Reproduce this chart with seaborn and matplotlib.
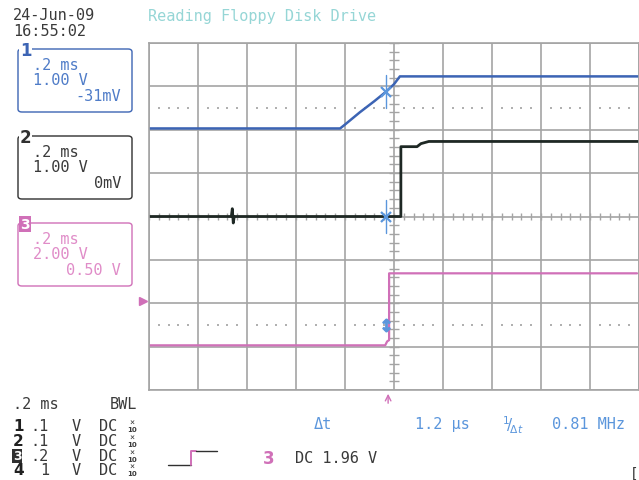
import numpy as np
import pandas as pd
import matplotlib
matplotlib.use("Agg")
import matplotlib.pyplot as plt
import seaborn as sns
from matplotlib.patches import FancyBboxPatch
from matplotlib.lines import Line2D
import matplotlib.transforms as mtransforms

# ---------------- data (time in divisions, 0.2 ms/div; level in divisions) -------------
ch1_t = [0.0, 3.90, 4.00, 4.30, 4.60, 4.84, 5.00, 5.12, 10.0]
ch1_v = [2.03, 2.03, 2.12, 2.40, 2.66, 2.88, 3.05, 3.23, 3.23]

ch2_t = [0.0, 1.68, 1.70, 1.72, 1.74, 5.14, 5.14, 5.47, 5.55, 5.71, 10.0]
ch2_v = [0.0, 0.0, 0.18, -0.15, 0.0, 0.0, 1.61, 1.61, 1.68, 1.73, 1.73]

ch3_t = [0.0, 4.82, 4.86, 4.90, 4.90, 9.96]
ch3_v = [-2.97, -2.97, -2.88, -2.85, -1.31, -1.31]

cursor_t = 4.84
cursor_levels = [2.88, 0.0]
trigger_level = -1.94
trigger_pos = 4.88

title = "Reading Floppy Disk Drive"
date_txt = "24-Jun-09"
time_txt = "16:55:02"
ch_labels = ["1", "2", "3"]
ch_timebase = [".2 ms", ".2 ms", ".2 ms"]
ch_scale = ["1.00 V", "1.00 V", "2.00 V"]
ch_offset = ["-31mV", "0mV", "0.50 V"]
row_nums = ["1", "2", "3", "4"]
row_scale = [".1", ".1", ".2", "1"]

# ---------------- styling ----------------
BLUE = "#3c64b4"
BLUE_TXT = "#4f7cc8"
CUR = "#5b96dc"
BLACK = "#1e2824"
PINK = "#d070b8"
PINK_TXT = "#e08cc8"
GRID = "#a4a4a4"
TITLE = "#96d6d6"
TXT = "#3a3a3a"
MONO = "DejaVu Sans Mono"

sns.set_style("white")
W, H = 639, 481
fig = plt.figure(figsize=(W / 100, H / 100), dpi=100)
fig.patch.set_facecolor("white")

def fx(px):
    return px / W

def fy(py):
    return 1 - py / H

ax = fig.add_axes([fx(149), fy(391), fx(639) - fx(149), fy(44) - fy(391)])
ax.set_xlim(0, 10)
ax.set_ylim(-4, 4)
ax.set_xticks(range(0, 11))
ax.set_yticks(range(-4, 5))
ax.tick_params(length=0, labelbottom=False, labelleft=False)
ax.grid(True, color=GRID, lw=1.2)
for s in ax.spines.values():
    s.set_color(GRID)
    s.set_linewidth(1.2)

# center-line graticule ticks
minor = np.arange(0, 10.01, 0.2)
ax.vlines(minor, -0.07, 0.07, color=GRID, lw=1.0)
minor_y = np.arange(-4, 4.01, 0.2)
ax.hlines(minor_y, 5 - 0.1, 5 + 0.1, color=GRID, lw=1.0)
# dotted rows
dots = [x for x in np.arange(0, 10.0, 0.2) if abs(x - round(x)) > 0.05]
for yy in (2.5, -2.5):
    ax.scatter(dots, [yy] * len(dots), s=1.2, color="#b0b0b0", marker="s", linewidths=0)

# traces
df1 = pd.DataFrame({"t": ch1_t, "v": ch1_v})
df2 = pd.DataFrame({"t": ch2_t, "v": ch2_v})
df3 = pd.DataFrame({"t": ch3_t, "v": ch3_v})
sns.lineplot(data=df3, x="t", y="v", ax=ax, color=PINK, lw=1.6, sort=False, estimator=None)
sns.lineplot(data=df2, x="t", y="v", ax=ax, color=BLACK, lw=2.0, sort=False, estimator=None)
sns.lineplot(data=df1, x="t", y="v", ax=ax, color=BLUE, lw=1.8, sort=False, estimator=None)
ax.set_xlabel("")
ax.set_ylabel("")

# cursors
for lv in cursor_levels:
    ax.plot([cursor_t, cursor_t], [lv - 0.38, lv + 0.38], color=CUR, lw=1.0)
    ax.plot([cursor_t], [lv], marker="x", ms=7, mew=1.6, color=CUR)
ax.plot([cursor_t], [-2.5], marker="$\\updownarrow$", ms=9, color=CUR)

# trigger markers
ax.plot([-0.12], [trigger_level], marker=">", ms=6, color=PINK, clip_on=False)
trans = mtransforms.blended_transform_factory(ax.transData, fig.transFigure)
ax.annotate("", xy=(trigger_pos, fy(392)), xycoords=trans,
            xytext=(trigger_pos, fy(407)), textcoords=trans,
            arrowprops=dict(arrowstyle="->", color=PINK, lw=1.0))

# ---------------- texts ----------------
def T(px, py, s, color=TXT, ha="left", size=11, family=MONO, **kw):
    fig.text(fx(px), fy(py), s, color=color, ha=ha, va="center", fontsize=size,
             family=family, **kw)

T(13, 15, date_txt)
T(13, 31, time_txt)
T(148, 16, title, color=TITLE)

boxes = [(50, 113, BLUE, BLUE_TXT), (137, 200, "#303030", TXT), (224, 287, PINK, PINK_TXT)]
for i, (top, bot, ec, tc) in enumerate(boxes):
    p = FancyBboxPatch((fx(18), fy(bot)), fx(132) - fx(18), fy(top) - fy(bot),
                       boxstyle="round,pad=0,rounding_size=0.006", transform=fig.transFigure,
                       fc="none", ec=ec, lw=1.0)
    fig.add_artist(p)
    T(33, top + 16, ch_timebase[i], color=tc)
    T(33, top + 31, ch_scale[i], color=tc)
    T(121, top + 47, ch_offset[i], color=tc, ha="right")
    if i < 2:
        T(20, top + 1, ch_labels[i], color=ec, size=12, family="DejaVu Sans", weight="bold",
          bbox=dict(fc="white", ec="none", pad=0.5))
    else:
        T(20, top + 1, ch_labels[i], color="white", size=10, family="DejaVu Sans", weight="bold",
          bbox=dict(fc=PINK, ec="none", pad=0.8))

# bottom left status
T(13, 405, ".2 ms")
T(137, 405, "BWL", ha="right")
row_y = [427, 442, 457, 471]
for i, yy in enumerate(row_y):
    if i == 2:
        T(13, yy, row_nums[i], color="white", size=9, family="DejaVu Sans", weight="bold",
          bbox=dict(fc="#303030", ec="none", pad=0.5))
    else:
        T(13, yy, row_nums[i], color="#202020", size=11, family="DejaVu Sans", weight="bold")
    T(49, yy, row_scale[i], ha="right")
    T(72, yy, "V")
    T(99, yy, "DC")
    T(132, yy - 4, "×", size=6, ha="center")
    T(132, yy + 3, "10", size=5, ha="center", family="DejaVu Sans", weight="bold")

# measurement line
T(314, 425, "Δt", color=CUR)
T(470, 425, "1.2 µs", color=CUR, ha="right")
T(502, 425, r"$^{1}\!/\!_{\Delta t}$", color=CUR, size=11, family="DejaVu Sans")
T(625, 425, "0.81 MHz", color=CUR, ha="right")

# trigger icon
fig.add_artist(Line2D([fx(168), fx(191)], [fy(466), fy(466)], color="#303030", lw=1.0))
fig.add_artist(Line2D([fx(191), fx(191), fx(196)], [fy(466), fy(452), fy(452)], color=PINK, lw=1.4))
fig.add_artist(Line2D([fx(196), fx(217)], [fy(452), fy(452)], color="#303030", lw=1.0))
T(263, 459, "3", color=PINK, size=12, family="DejaVu Sans", weight="bold")
T(295, 459, "DC 1.96 V")
T(630, 474, "[", size=10)

fig.savefig("out.png", dpi=100, facecolor="white")
